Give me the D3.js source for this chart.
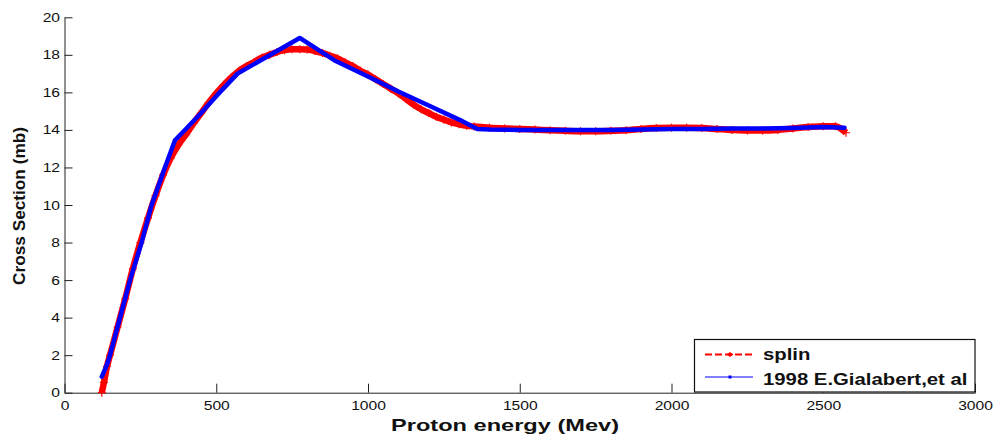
<!DOCTYPE html>
<html>
<head>
<meta charset="utf-8">
<script src="https://cdn.jsdelivr.net/npm/d3@7"></script>
<style>
  html, body { margin: 0; padding: 0; background: #fff; }
  svg { display: block; }
  text { font-family: "Liberation Sans", Arial, Helvetica, sans-serif; fill: #111; }
</style>
</head>
<body>
<svg id="chart" width="998" height="441"></svg>
<script>
// Spline fit of the cross section (MeV, mb)
const splinEnergy = [123, 130, 140, 150, 175, 200, 225, 250, 275, 300, 325, 350, 375, 400, 425, 450, 475, 500,
  525, 550, 575, 600, 625, 650, 675, 700, 725, 750, 775, 800, 825, 850, 875, 900, 925, 950, 975, 1000,
  1025, 1050, 1075, 1100, 1125, 1150, 1175, 1200, 1225, 1250, 1275, 1300, 1325, 1350, 1400, 1450, 1500,
  1550, 1600, 1650, 1700, 1750, 1800, 1850, 1900, 1950, 2000, 2050, 2100, 2150, 2200, 2250, 2300, 2350,
  2400, 2450, 2500, 2540, 2560, 2575];
const splinSection = [0.0, 0.55, 1.4, 2.0, 3.5, 5.0, 6.6, 8.0, 9.3, 10.5, 11.6, 12.5, 13.2, 13.75, 14.35, 14.9, 15.45, 15.95,
  16.4, 16.8, 17.15, 17.4, 17.62, 17.85, 18.0, 18.15, 18.25, 18.3, 18.3, 18.28, 18.2, 18.1, 17.95, 17.8, 17.6, 17.4, 17.15, 16.95,
  16.7, 16.45, 16.2, 15.95, 15.65, 15.35, 15.1, 14.9, 14.7, 14.55, 14.4, 14.3, 14.22, 14.18, 14.12, 14.08, 14.05,
  14.02, 13.98, 13.95, 13.93, 13.93, 13.95, 13.98, 14.05, 14.1, 14.12, 14.12, 14.1, 14.05, 14.0, 13.97, 13.97, 14.0,
  14.08, 14.15, 14.2, 14.2, 14.05, 13.85];

// Measured cross section, 1998 E. Gialabert et al (MeV, mb)
const gialabertEnergy = [123, 140, 150, 183, 216, 254, 287, 331, 364, 400, 450, 500, 570, 775, 890, 1000, 1100,
  1200, 1300, 1360, 1400, 1500, 1600, 1700, 1800, 1900, 2000, 2100, 2200, 2300, 2400, 2500, 2570];
const gialabertSection = [0.85, 1.5, 2.0, 4.0, 6.0, 8.0, 10.0, 12.0, 13.45, 14.05, 14.9, 15.8, 17.0, 18.9, 17.7, 16.85, 16.05,
  15.3, 14.55, 14.05, 14.02, 14.0, 14.0, 14.0, 14.0, 14.02, 14.05, 14.05, 14.08, 14.08, 14.1, 14.15, 14.12];

const xTicks = [0, 500, 1000, 1500, 2000, 2500, 3000];
const yTicks = [0, 2, 4, 6, 8, 10, 12, 14, 16, 18, 20];
const seriesNames = ["splin", "1998 E.Gialabert,et al"];

const svg = d3.select("#chart");
const x = d3.scaleLinear().domain([0, 3000]).range([64.5, 975]);
const y = d3.scaleLinear().domain([0, 20]).range([392.7, 17.3]);

// Widen text horizontally by factor k
function widen(sel, k) {
  sel.each(function () {
    const w = this.getComputedTextLength();
    this.setAttribute("textLength", w * k);
    this.setAttribute("lengthAdjust", "spacingAndGlyphs");
  });
}

// Axes (left and bottom only, inward ticks)
const gx = svg.append("g")
  .attr("transform", `translate(0,${y(0)})`)
  .call(d3.axisBottom(x).tickValues(xTicks).tickFormat(d3.format("d"))
    .tickSizeInner(-9).tickSizeOuter(0).tickPadding(8));
const gy = svg.append("g")
  .attr("transform", `translate(${x(0)},0)`)
  .call(d3.axisLeft(y).tickValues(yTicks).tickFormat(d3.format("d"))
    .tickSizeInner(-8).tickSizeOuter(0).tickPadding(4.5));
[gx, gy].forEach(g => {
  g.selectAll("path, line").attr("stroke", "#222").attr("stroke-width", 1);
  g.selectAll("text").attr("font-size", 12.5).attr("fill", "#111")
    .attr("font-family", "'Liberation Sans', Arial, sans-serif");
  widen(g.selectAll("text"), 1.25);
});

// Curves
const splinPts = splinEnergy.map((e, i) => [e, splinSection[i]]);
const gialPts = gialabertEnergy.map((e, i) => [e, gialabertSection[i]]);

svg.append("path")
  .datum(splinPts)
  .attr("d", d3.line().x(d => x(d[0])).y(d => y(d[1])).curve(d3.curveMonotoneX))
  .attr("fill", "none").attr("stroke", "#ff0000").attr("stroke-width", 6.5)
  .attr("stroke-linejoin", "round");
svg.append("g").selectAll("path")
  .data(splinPts)
  .join("path")
  .attr("transform", d => `translate(${x(d[0])},${y(d[1])})`)
  .attr("d", "M-4,0H4M0,-4V4")
  .attr("stroke", "#ff0000").attr("stroke-width", 1.2);

svg.append("path")
  .datum(gialPts)
  .attr("d", d3.line().x(d => x(d[0])).y(d => y(d[1])))
  .attr("fill", "none").attr("stroke", "#0000ff").attr("stroke-width", 4.5)
  .attr("stroke-linejoin", "round").attr("stroke-linecap", "round");

// Axis titles
svg.append("text")
  .attr("x", 505).attr("y", 431)
  .attr("text-anchor", "middle")
  .attr("font-size", 17).attr("font-weight", "bold")
  .attr("textLength", 228).attr("lengthAdjust", "spacingAndGlyphs")
  .text("Proton energy (Mev)");
svg.append("text")
  .attr("transform", "translate(25,206) rotate(-90)")
  .attr("text-anchor", "middle")
  .attr("font-size", 16).attr("font-weight", "bold")
  .attr("textLength", 158).attr("lengthAdjust", "spacingAndGlyphs")
  .text("Cross Section (mb)");

// Legend
const lg = svg.append("g");
lg.append("rect")
  .attr("x", 694.5).attr("y", 339.5).attr("width", 280.5).attr("height", 52.5)
  .attr("fill", "#fff").attr("stroke", "#111").attr("stroke-width", 1.2);
const rows = [354.5, 377];
lg.append("line").attr("x1", 705).attr("x2", 753).attr("y1", rows[0]).attr("y2", rows[0])
  .attr("stroke", "#ff0000").attr("stroke-width", 2).attr("stroke-dasharray", "7,3");
lg.append("path").attr("d", `M726.5,${rows[0]}L730,${rows[0] - 2.5}L733.5,${rows[0]}L730,${rows[0] + 2.5}Z`)
  .attr("fill", "#ff0000");
lg.append("line").attr("x1", 705).attr("x2", 753).attr("y1", rows[1]).attr("y2", rows[1])
  .attr("stroke", "#0000ff").attr("stroke-width", 1.2);
lg.append("rect").attr("x", 728.5).attr("y", rows[1] - 1.5).attr("width", 3).attr("height", 3)
  .attr("fill", "#0000ff");
const lt = lg.selectAll("text.lbl")
  .data(seriesNames)
  .join("text")
  .attr("class", "lbl")
  .attr("x", 763).attr("y", (d, i) => [359.5, 385][i])
  .attr("font-size", 16).attr("font-weight", "bold")
  .text(d => d);
widen(lt, 1.27);
</script>
</body>
</html>
